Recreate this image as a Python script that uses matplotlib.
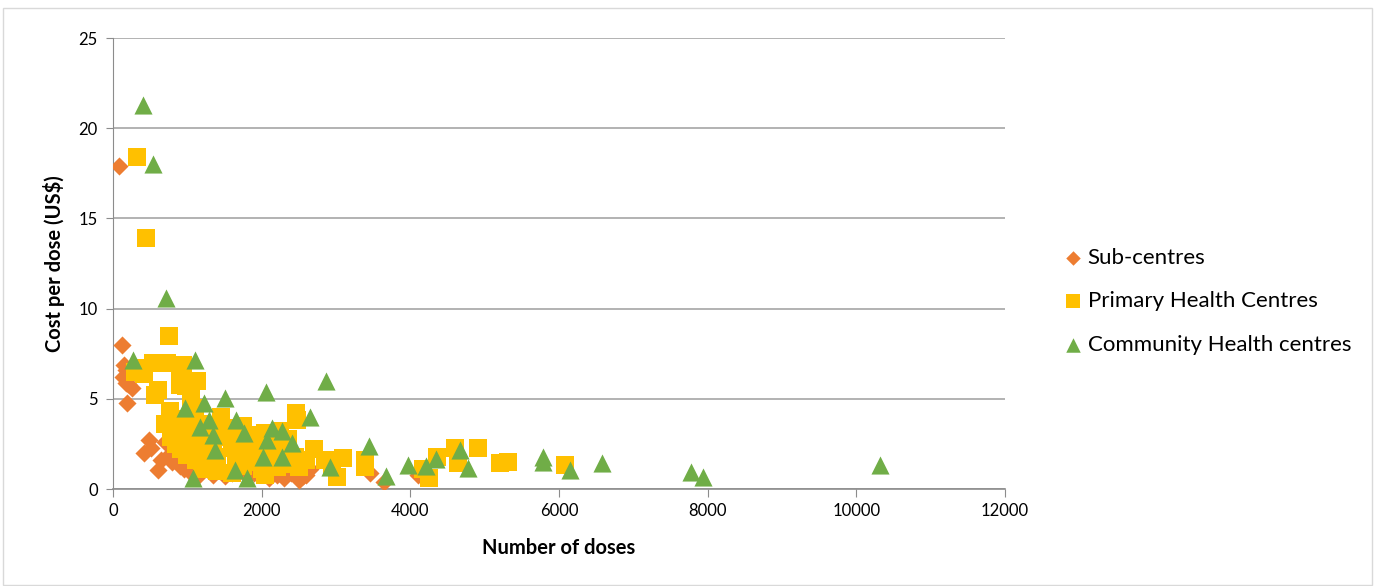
import matplotlib.pyplot as plt
from matplotlib.patches import Rectangle

# Sub-centres
sc_x = [81, 121, 150, 170, 140, 180, 250, 200, 190, 480, 420, 510, 600, 650, 700, 750,
        800, 850, 900, 950, 1000, 1050, 1100, 1150, 1200, 1300, 1350, 1450, 1500, 1600,
        1700, 1800, 1900, 2000, 2100, 2200, 2300, 2400, 2500, 2600, 2650, 3450, 3650,
        4100, 1170, 1547, 1250, 1900, 2250, 2550]
sc_y = [17.9, 8.0, 6.9, 6.6, 6.2, 5.9, 5.6, 5.8, 4.75, 2.7, 2.0, 2.3, 1.05, 1.6, 2.6, 1.9,
        1.5, 1.8, 1.3, 1.1, 1.4, 0.9, 1.2, 0.8, 1.0, 1.1, 0.8, 1.0, 0.7, 0.9,
        1.2, 0.7, 0.9, 1.0, 0.6, 0.8, 0.6, 0.9, 0.5, 0.8, 1.1, 0.9, 0.4,
        0.8, 2.5, 2.6, 1.5, 1.3, 1.0, 0.7]

# Primary Health Centres
phc_x = [323, 444, 753, 538, 726, 363, 942, 901, 1130, 901, 605, 565, 300, 420,
         760, 820, 700, 880, 950, 1000, 1050, 1100, 1150, 780, 850, 920, 1000, 1080,
         1120, 1200, 1250, 1300, 1350, 1400, 1450, 1500, 1550, 1600, 1650, 1700, 1750,
         1800, 1850, 1900, 1950, 2000, 2050, 2100, 2150, 2200, 2250, 2300, 2350, 2450,
         2500, 2600, 2700, 2460, 2480, 1050, 980, 1200, 1400, 1600, 2050, 1750, 2350,
         3094, 3013, 3390, 3390, 4359, 4601, 4910, 4641, 5206, 5314, 6081, 4251, 4170,
         2850, 2950]
phc_y = [18.4, 13.9, 8.5, 7.0, 6.98, 6.7, 6.9, 6.2, 6.0, 5.76, 5.5, 5.2, 6.5, 6.4,
         4.3, 3.9, 3.6, 3.2, 3.8, 2.9, 4.2, 4.5, 3.6, 2.9, 2.5, 2.2, 1.9, 2.6,
         1.6, 2.1, 1.4, 3.1, 2.5, 1.8, 4.0, 3.4, 2.9, 2.3, 1.6, 2.6, 1.3,
         2.0, 3.0, 1.5, 2.2, 1.1, 3.1, 1.7, 2.5, 1.2, 3.2, 1.9, 1.4, 1.8,
         1.2, 1.6, 2.2, 4.2, 3.8, 5.0, 5.7, 1.1, 1.0, 0.9, 0.8, 3.5, 2.8,
         1.72, 0.67, 1.61, 1.22, 1.77, 2.27, 2.27, 1.44, 1.44, 1.5, 1.33, 0.6, 1.1,
         1.6, 1.3]

# Community Health centres
chc_x = [404, 538, 713, 269, 1103, 1507, 2058, 2865, 969, 1224, 1291, 1170, 1655, 1345,
         1762, 2139, 2274, 2650, 2072, 2408, 1372, 2018, 2274, 1641, 2919, 1076, 1803,
         3444, 3673, 3969, 4211, 4345, 4668, 4776, 5785, 5785, 6148, 6578, 7776, 7937,
         10318]
chc_y = [21.3, 18.0, 10.6, 7.15, 7.15, 5.04, 5.38, 5.99, 4.49, 4.77, 3.82, 3.44, 3.82, 2.99,
         3.10, 3.38, 3.22, 3.99, 2.72, 2.55, 2.16, 1.77, 1.77, 1.05, 1.22, 0.61, 0.61,
         2.38, 0.72, 1.33, 1.27, 1.66, 2.16, 1.16, 1.8, 1.5, 1.05, 1.44, 0.94, 0.66,
         1.33]

plt.rcParams['font.family'] = ['Lato', 'DejaVu Sans']

fig = plt.figure(figsize=(13.75, 5.86), dpi=100)
ax = fig.add_axes([0.0822, 0.1655, 0.6488, 0.7695])

ax.scatter(sc_x, sc_y, marker="D", s=85, color="#ED7D31", linewidths=0, label="Sub-centres", zorder=3)
ax.scatter(phc_x, phc_y, marker="s", s=150, color="#FFC000", linewidths=0, label="Primary Health Centres", zorder=4)
ax.scatter(chc_x, chc_y, marker="^", s=170, color="#70AD47", linewidths=0, label="Community Health centres", zorder=5)

ax.set_xlim(0, 12000)
ax.set_ylim(0, 25)
ax.set_xticks(range(0, 12001, 2000))
ax.set_yticks(range(0, 26, 5))
ax.grid(axis="y", color="#A6A6A6", linewidth=1.2, zorder=0)
ax.set_axisbelow(True)
for s in ["top", "right"]:
    ax.spines[s].set_visible(False)
ax.spines["left"].set_color("#8C8C8C")
ax.spines["bottom"].set_color("#8C8C8C")
ax.spines["bottom"].set_linewidth(1.2)
ax.tick_params(axis="x", length=6, color="#8C8C8C", labelsize=12, pad=4)
ax.tick_params(axis="y", length=5, color="#8C8C8C", labelsize=12, pad=6)

ax.set_xlabel("Number of doses", fontsize=14.5, fontweight="bold", labelpad=14)
ax.set_ylabel("Cost per dose (US$)", fontsize=14.5, fontweight="bold", labelpad=10)

fig.legend(loc="center left", bbox_to_anchor=(0.757, 0.486), frameon=False, fontsize=16,
           handletextpad=0.1, markerscale=0.8, labelspacing=1.05, handlelength=1.1)

fig.patches.append(Rectangle((0.002, 0.002), 0.996, 0.984, transform=fig.transFigure,
                             fill=False, edgecolor="#D9D9D9", linewidth=1))

fig.savefig("out.png", dpi=100)
